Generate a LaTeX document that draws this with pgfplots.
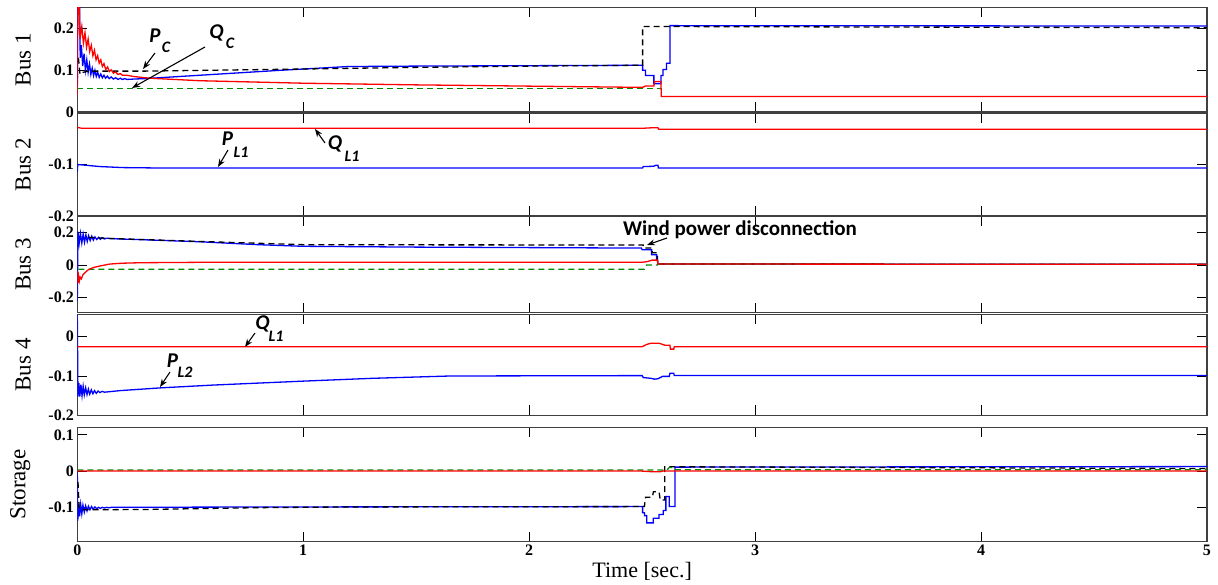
\documentclass[border=0pt]{standalone}
\usepackage{fontspec}
\setmainfont{Liberation Serif}
\newfontfamily\annfont{Carlito}
\usepackage{pgfplots}
\pgfplotsset{compat=1.18}
\usetikzlibrary{arrows.meta}

\definecolor{cgreen}{rgb}{0.0,0.55,0.0}

\pgfplotsset{
  panel/.style={
    scale only axis, width=1129.7pt, anchor=south west,
    xmin=0, xmax=5, xtick={0,1,2,3,4,5},
    tick align=inside, xtick pos=both, ytick pos=both,
    yticklabel pos=left, xticklabel pos=lower,
    major tick length=10pt,
    axis line style={draw=black!75, line width=1.4pt},
    every tick/.style={black, line width=0.9pt},
    tick label style={font=\fontsize{16}{16}\selectfont\bfseries},
    /pgf/number format/assume math mode=true,
    ylabel style={font=\fontsize{23}{23}\selectfont, at={(axis description cs:-0.048,0.5)}, anchor=center},
    clip=true,
  },
  inner/.style={xticklabels={}},
  pblue/.style={blue, line width=1.3pt},
  pred/.style={red, line width=1.3pt},
  pblack/.style={black, line width=1.3pt, dash pattern=on 6pt off 4pt},
  pgreen/.style={cgreen, line width=1.3pt, dash pattern=on 6pt off 4pt},
}

\begin{document}
\begin{tikzpicture}
\path[use as bounding box] (0,0) rectangle (1218pt,585pt);

% ---------------- Bus 1 ----------------
\begin{axis}[panel, inner, at={(77.3pt,473pt)}, height=104.7pt,
  ymin=0, ymax=0.251, ytick={0,0.1,0.2}, yticklabels={0,0.1,0.2}, ylabel={Bus 1}]
\addplot[pblue] coordinates {(0,0.06) (0.002,0.26) (0.01,0.26) (0.013,0.13) (0.018,0.16) (0.024,0.11) (0.03,0.14) (0.036,0.1) (0.042,0.125) (0.048,0.095) (0.054,0.115) (0.06,0.09) (0.066,0.105) (0.072,0.087) (0.078,0.1) (0.084,0.085) (0.09,0.095) (0.097,0.083) (0.104,0.091) (0.111,0.082) (0.118,0.088) (0.125,0.081) (0.133,0.086) (0.141,0.08) (0.15,0.084) (0.16,0.079) (0.17,0.082) (0.18,0.078) (0.19,0.081) (0.2,0.078) (0.21,0.08) (0.22,0.078) (0.25,0.079) (0.3,0.08) (0.6,0.09) (0.9,0.1) (1.2,0.109) (1.5,0.11) (2.0,0.111) (2.502,0.112) (2.502,0.1) (2.515,0.1) (2.515,0.0875) (2.552,0.0875) (2.552,0.068) (2.583,0.068) (2.583,0.0875) (2.592,0.0875) (2.592,0.102) (2.608,0.102) (2.608,0.117) (2.623,0.117) (2.623,0.207) (5,0.206)};
\addplot[pblack] coordinates {(0.005,0.13) (0.012,0.09) (0.025,0.095) (0.05,0.098) (0.3,0.098) (1.0,0.103) (1.5,0.107) (2.0,0.11) (2.502,0.112) (2.502,0.205) (5,0.202)};
\addplot[pgreen] coordinates {(0,0.057) (2.585,0.057) (2.585,0.037) (5,0.037)};
\addplot[pred] coordinates {(0,0.04) (0.002,0.26) (0.008,0.26) (0.012,0.175) (0.02,0.205) (0.027,0.165) (0.034,0.19) (0.041,0.155) (0.048,0.175) (0.055,0.145) (0.062,0.16) (0.069,0.135) (0.076,0.148) (0.083,0.125) (0.09,0.135) (0.097,0.117) (0.104,0.125) (0.111,0.109) (0.118,0.116) (0.126,0.102) (0.134,0.108) (0.142,0.097) (0.15,0.101) (0.16,0.093) (0.17,0.096) (0.18,0.09) (0.19,0.092) (0.2,0.088) (0.22,0.088) (0.25,0.085) (0.32,0.081) (0.54,0.075) (1.0,0.069) (1.5,0.065) (2.0,0.062) (2.502,0.059) (2.515,0.0625) (2.552,0.0625) (2.555,0.073) (2.583,0.073) (2.585,0.037) (5,0.037)};
\end{axis}

% ---------------- Bus 2 ----------------
\begin{axis}[panel, inner, at={(77.3pt,369pt)}, height=103pt,
  ymin=-0.2, ymax=0, ytick={-0.2,-0.1,0}, yticklabels={-0.2,-0.1,{}}, ylabel={Bus 2}]
\addplot[pblue] coordinates {(0,-0.115) (0.002,-0.1) (0.05,-0.102) (0.1,-0.104) (0.2,-0.106) (0.4,-0.107) (2.502,-0.107) (2.505,-0.104) (2.55,-0.1035) (2.56,-0.1016) (2.57,-0.1016) (2.572,-0.107) (5,-0.107)};
\addplot[pred] coordinates {(0,-0.028) (0.02,-0.0297) (2.5,-0.0297) (2.54,-0.0288) (2.57,-0.0285) (2.573,-0.0317) (5,-0.0317)};
\end{axis}

% ---------------- Bus 3 ----------------
\begin{axis}[panel, inner, at={(77.3pt,272.3pt)}, height=96.7pt,
  ymin=-0.2935, ymax=0.3015, ytick={-0.2,0,0.2}, yticklabels={-0.2,0,0.2}, ylabel={Bus 3}]
\addplot[pblue] coordinates {(0,-0.22) (0.003,0.205) (0.008,0.13) (0.014,0.195) (0.02,0.135) (0.026,0.19) (0.032,0.14) (0.038,0.185) (0.044,0.145) (0.05,0.18) (0.057,0.15) (0.064,0.177) (0.071,0.153) (0.078,0.173) (0.086,0.157) (0.094,0.17) (0.102,0.158) (0.11,0.168) (0.12,0.16) (0.13,0.165) (0.15,0.162) (0.3,0.155) (0.54,0.143) (0.8,0.125) (1.0,0.115) (1.5,0.11) (2.0,0.107) (2.497,0.104) (2.5,0.094) (2.542,0.094) (2.542,0.0625) (2.564,0.0625) (2.564,0.031) (2.568,0.031) (2.57,0.006) (5,0.004)};
\addplot[pblack] coordinates {(0.05,0.17) (0.15,0.163) (0.54,0.145) (1.0,0.125) (1.5,0.124) (2.505,0.123) (2.505,0.104) (2.545,0.104) (2.545,0.075) (2.568,0.075) (2.568,0.006) (5,0.004)};
\addplot[pgreen] coordinates {(0.005,-0.026) (2.51,-0.026) (2.52,0.0) (2.568,0.0) (2.57,0.006) (5,0.004)};
\addplot[pred] coordinates {(0,-0.04) (0.003,-0.11) (0.006,-0.07) (0.009,-0.1) (0.013,-0.075) (0.018,-0.085) (0.025,-0.06) (0.032,-0.05) (0.047,-0.031) (0.07,-0.016) (0.1,-0.006) (0.145,0.006) (0.2,0.011) (0.28,0.014) (0.6,0.017) (2.5,0.017) (2.52,0.02) (2.545,0.03) (2.568,0.03) (2.57,0.006) (5,0.004)};
\end{axis}

% ---------------- Bus 4 ----------------
\begin{axis}[panel, inner, at={(77.3pt,169.5pt)}, height=101pt,
  ymin=-0.2, ymax=0.0557, ytick={-0.2,-0.1,0}, yticklabels={-0.2,-0.1,0}, ylabel={Bus 4}]
\addplot[pblue] coordinates {(0,0.055) (0.003,-0.152) (0.007,-0.118) (0.011,-0.152) (0.016,-0.122) (0.021,-0.15) (0.026,-0.126) (0.031,-0.148) (0.037,-0.13) (0.043,-0.147) (0.049,-0.133) (0.055,-0.146) (0.062,-0.135) (0.069,-0.145) (0.076,-0.137) (0.084,-0.144) (0.092,-0.138) (0.1,-0.142) (0.11,-0.139) (0.12,-0.141) (0.19,-0.137) (0.37,-0.13) (0.6,-0.123) (1.0,-0.113) (1.3,-0.106) (1.65,-0.1) (2.5,-0.099) (2.505,-0.104) (2.54,-0.106) (2.555,-0.108) (2.57,-0.107) (2.59,-0.101) (2.62,-0.101) (2.623,-0.093) (2.64,-0.093) (2.642,-0.099) (5,-0.099)};
\addplot[pred] coordinates {(0,-0.026) (2.5,-0.026) (2.52,-0.02) (2.54,-0.017) (2.575,-0.017) (2.6,-0.022) (2.623,-0.022) (2.625,-0.032) (2.64,-0.032) (2.642,-0.026) (5,-0.026)};
\end{axis}

% ---------------- Storage ----------------
\begin{axis}[panel, at={(77.3pt,43.3pt)}, height=114.4pt,
  ymin=-0.195, ymax=0.121, ytick={-0.1,0,0.1}, yticklabels={-0.1,0,0.1},
  xticklabels={0,1,2,3,4,5},
  ylabel={Storage}, ylabel style={at={(axis description cs:-0.0505,0.5)}},
  xlabel={Time [sec.]},
  xlabel style={font=\fontsize{22}{22}\selectfont, at={(axis description cs:0.5,0)}, anchor=center, yshift=-30pt}]
\addplot[pblue] coordinates {(0,0) (0.002,-0.137) (0.006,-0.09) (0.01,-0.125) (0.015,-0.092) (0.02,-0.118) (0.025,-0.094) (0.031,-0.113) (0.037,-0.096) (0.043,-0.11) (0.049,-0.097) (0.056,-0.107) (0.063,-0.098) (0.07,-0.105) (0.078,-0.099) (0.086,-0.104) (0.094,-0.1) (0.102,-0.103) (0.11,-0.1) (0.12,-0.102) (0.13,-0.1) (0.14,-0.1015) (0.15,-0.1) (1.0,-0.099) (2.502,-0.098) (2.502,-0.115) (2.51,-0.115) (2.51,-0.123) (2.52,-0.123) (2.52,-0.143) (2.549,-0.143) (2.549,-0.13) (2.575,-0.13) (2.575,-0.12) (2.593,-0.12) (2.593,-0.109) (2.605,-0.109) (2.605,-0.07) (2.62,-0.07) (2.62,-0.098) (2.645,-0.098) (2.645,0.011) (5,0.0125)};
\addplot[pblack] coordinates {(0.003,-0.03) (0.008,-0.1) (0.02,-0.107) (0.3,-0.106) (0.8,-0.101) (1.2,-0.099) (2.51,-0.098) (2.515,-0.072) (2.545,-0.072) (2.55,-0.057) (2.575,-0.057) (2.58,-0.08) (2.6,-0.08) (2.6,0.012) (5,0.007)};
\addplot[pgreen] coordinates {(0,0.003) (2.61,0.003) (2.62,0.01) (2.64,0.01) (2.645,0.004) (5,0.004)};
\addplot[pred] coordinates {(0,0) (2.5,0) (2.55,-0.002) (2.58,-0.002) (2.59,0) (5,0)};
\end{axis}

% ---------------- annotations ----------------
\begin{scope}[x=1pt, y=-1pt, shift={(0pt,585pt)}]
  \tikzset{lbl/.style={inner sep=0pt, font=\annfont\bfseries\itshape\fontsize{21}{21}\selectfont},
           sub/.style={inner sep=0pt, font=\annfont\bfseries\itshape\fontsize{16}{16}\selectfont},
           arr/.style={-{Stealth[length=8pt,width=6pt]}, line width=1.1pt, black}}
  % Bus 1
  \node[lbl] at (155,36) {P};   \node[sub] at (166,47.5) {C};
  \draw[arr] (155,53) -- (143,69);
  \node[lbl] at (216.5,32.5) {Q}; \node[sub] at (230,43) {C};
  \draw[arr] (205,47) -- (132,88);
  % Bus 2
  \node[lbl] at (227.5,139) {P}; \node[sub] at (241,152.5) {L1};
  \draw[arr] (228,150) -- (218,167);
  \node[lbl] at (335,144) {Q}; \node[sub] at (352,156) {L1};
  \draw[arr] (325,143) -- (315,129);
  % Bus 3
  \node[inner sep=0pt, anchor=base, font=\annfont\bfseries\fontsize{21}{21}\selectfont] at (740,236) {Wind power disconnection};
  \draw[arr] (667,238) -- (647,245);
  % Bus 4
  \node[lbl] at (262.5,324) {Q}; \node[sub] at (276,336) {L1};
  \draw[arr] (255,333) -- (245,347);
  \node[lbl] at (172.5,361) {P}; \node[sub] at (185,372.5) {L2};
  \draw[arr] (170,372) -- (160,387);
\end{scope}
\end{tikzpicture}
\end{document}
